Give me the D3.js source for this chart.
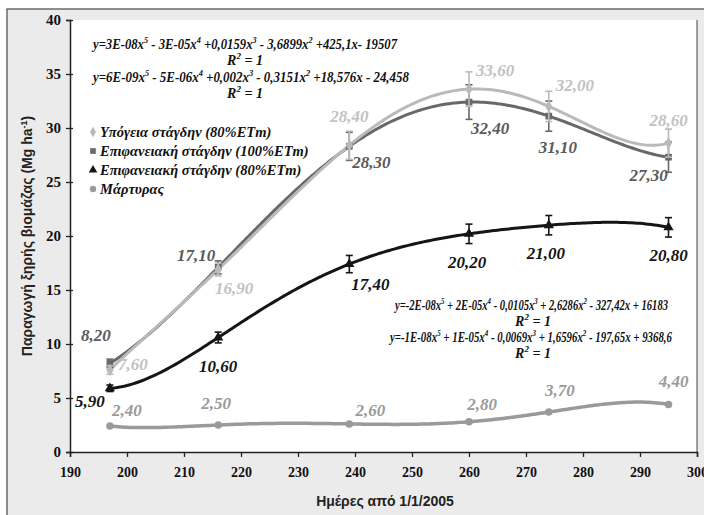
<!DOCTYPE html>
<html>
<head>
<meta charset="utf-8">
<script src="https://cdn.jsdelivr.net/npm/d3@7/dist/d3.min.js"></script>
<style>
  body { margin: 0; background: #fff; }
  .tick text { font-family: "Liberation Serif", "Times New Roman", "DejaVu Serif", serif; font-weight: bold; font-size: 15px; fill: #111; }
  .lbl { font-family: "Liberation Serif", "Times New Roman", "DejaVu Serif", serif; font-weight: bold; font-style: italic; font-size: 17px; }
  .eq { font-family: "Liberation Serif", "Times New Roman", "DejaVu Serif", serif; font-weight: bold; font-style: italic; font-size: 14px; fill: #111; }
  .leg { font-family: "Liberation Serif", "Times New Roman", "DejaVu Serif", serif; font-weight: bold; font-style: italic; font-size: 14.5px; fill: #111; }
  .title { font-family: "Liberation Sans", Arial, sans-serif; font-weight: bold; font-size: 14px; fill: #222; }
</style>
</head>
<body>
<svg width="704" height="515"></svg>
<script>
// days since 1/1/2005
var days = [197, 216, 239, 260, 274, 295];

var names = ["Υπόγεια στάγδην (80%ETm)", "Επιφανειακή στάγδην (100%ETm)",
             "Επιφανειακή στάγδην (80%ETm)", "Μάρτυρας"];

var subsurface80 = [7.60, 16.90, 28.40, 33.60, 32.00, 28.60];
var surface100   = [8.20, 17.10, 28.30, 32.40, 31.10, 27.30];
var surface80    = [5.90, 10.60, 17.40, 20.20, 21.00, 20.80];
var control      = [2.40, 2.50, 2.60, 2.80, 3.70, 4.40];

// error bar half-widths
var errSub80  = [0.4, 0.6, 1.3, 1.6, 1.4, 1.3];
var errSur100 = [0.4, 0.6, 1.3, 1.6, 1.4, 1.4];
var errSur80  = [0.3, 0.5, 0.8, 0.9, 0.9, 0.9];
var errCtrl   = [0, 0, 0, 0, 0, 0];

var xTicks = [190, 200, 210, 220, 230, 240, 250, 260, 270, 280, 290, 300];
var yTicks = [0, 5, 10, 15, 20, 25, 30, 35, 40];

var svg = d3.select("svg");

var x = d3.scaleLinear().domain([190, 300]).range([70, 697]),
    y = d3.scaleLinear().domain([0, 40]).range([452, 20]);

// background + frame
svg.append("rect").attr("x", 7).attr("y", 9).attr("width", 704).attr("height", 515)
  .attr("fill", "#ebebeb").attr("stroke", "#555").attr("stroke-width", 1.3);
svg.append("rect").attr("x", x(190)).attr("y", y(40))
  .attr("width", x(300) - x(190)).attr("height", y(0) - y(40)).attr("fill", "#fff");
svg.append("line").attr("x1", x(300)).attr("x2", x(300)).attr("y1", y(40)).attr("y2", y(0))
  .attr("stroke", "#444").attr("stroke-width", 1);

// axes
var gx = svg.append("g").attr("transform", "translate(0," + y(0) + ")")
  .call(d3.axisBottom(x).tickValues(xTicks).tickSize(5).tickPadding(9).tickFormat(d3.format("d")));
var gy = svg.append("g").attr("transform", "translate(" + x(190) + ",0)")
  .call(d3.axisLeft(y).tickValues(yTicks).tickSize(4).tickPadding(5).tickFormat(d3.format("d")));
gx.attr("font-family", null);
gy.attr("font-family", null);
gx.select(".domain").attr("stroke", "#222").attr("stroke-width", 1.5);
gy.select(".domain").attr("stroke", "#222").attr("stroke-width", 1.5);
gx.selectAll(".tick line").attr("stroke", "#222").attr("stroke-width", 1.3);
gy.selectAll(".tick line").attr("stroke", "#222").attr("stroke-width", 1.3).attr("x2", 3).attr("x1", -4);
gx.selectAll(".tick text").attr("textLength", 21).attr("lengthAdjust", "spacingAndGlyphs");

// titles
svg.append("text").attr("class", "title").attr("x", 385).attr("y", 506)
  .attr("text-anchor", "middle").text("Ημέρες από 1/1/2005");
var yt = svg.append("text").attr("class", "title").attr("text-anchor", "middle")
  .attr("transform", "translate(32,236) rotate(-90)");
yt.append("tspan").text("Παραγωγή ξηρής βιομάζας (Mg ha");
yt.append("tspan").attr("dy", -5).attr("font-size", 9).text("-1");
yt.append("tspan").attr("dy", 5).text(")");

// 5th order polynomial trendline through the 6 points (R² = 1)
function poly(xs, ys) {
  return function(t) {
    var s = 0;
    for (var i = 0; i < xs.length; i++) {
      var p = ys[i];
      for (var j = 0; j < xs.length; j++) if (j !== i) p *= (t - xs[j]) / (xs[i] - xs[j]);
      s += p;
    }
    return s;
  };
}

var series = [
  { vals: control, err: errCtrl, color: "#9a9a9a", sym: d3.symbolCircle, w: 3.5 },
  { vals: surface80, err: errSur80, color: "#151515", sym: d3.symbolTriangle, w: 3 },
  { vals: surface100, err: errSur100, color: "#686868", sym: d3.symbolSquare, w: 3 },
  { vals: subsurface80, err: errSub80, color: "#bababa", sym: d3.symbolDiamond, w: 3 }
];

var line = d3.line().x(function(d) { return x(d[0]); }).y(function(d) { return y(d[1]); });

series.forEach(function(s) {
  var f = poly(days, s.vals);
  var pts = d3.range(days[0], days[days.length - 1] + 0.5, 0.5).map(function(t) { return [t, f(t)]; });
  svg.append("path").attr("d", line(pts)).attr("fill", "none")
    .attr("stroke", s.color).attr("stroke-width", s.w);
});

series.forEach(function(s) {
  var g = svg.append("g");
  days.forEach(function(d, i) {
    if (s.err[i] > 0) {
      var x0 = x(d), y1 = y(s.vals[i] + s.err[i]), y2 = y(s.vals[i] - s.err[i]);
      g.append("line").attr("x1", x0).attr("x2", x0).attr("y1", y1).attr("y2", y2)
        .attr("stroke", s.color).attr("stroke-width", 1.6);
      [y1, y2].forEach(function(yy) {
        g.append("line").attr("x1", x0 - 3.5).attr("x2", x0 + 3.5).attr("y1", yy).attr("y2", yy)
          .attr("stroke", s.color).attr("stroke-width", 1.6);
      });
    }
    g.append("path").attr("d", d3.symbol().type(s.sym).size(45)())
      .attr("transform", "translate(" + x(d) + "," + y(s.vals[i]) + ")")
      .attr("fill", s.color);
  });
});

// data labels: offsets relative to each point
var offSub  = [[23, -6], [16, 19], [0, -29], [26, -19], [26, -21], [0, -23]];
var offSur  = [[-14, -28], [-22, -12], [22, 16], [21, 26], [9, 31], [-20, 18]];
var offSur8 = [[-20, 13], [0, 29], [21, 20], [-2, 28], [-3, 28], [0, 28]];
var offCtrl = [[17, -16], [-2, -22], [21, -14], [13, -18], [11, -22], [5, -23]];

function labels(vals, off, color) {
  svg.selectAll(null).data(vals).enter().append("text").attr("class", "lbl")
    .attr("x", function(d, i) { return x(days[i]) + off[i][0]; })
    .attr("y", function(d, i) { return y(d) + off[i][1]; })
    .attr("text-anchor", "middle").attr("dy", "0.35em").attr("fill", color)
    .text(function(d) { return d3.format(".2f")(d).replace(".", ","); });
}
labels(subsurface80, offSub, "#c2c2c2");
labels(surface100, offSur, "#5a5a5a");
labels(surface80, offSur8, "#151515");
labels(control, offCtrl, "#9a9a9a");

// legend
var legSym = [d3.symbolDiamond, d3.symbolSquare, d3.symbolTriangle, d3.symbolCircle];
var legCol = ["#bababa", "#686868", "#151515", "#9a9a9a"];
names.forEach(function(n, i) {
  var yy = 132 + i * 19;
  svg.append("path").attr("d", d3.symbol().type(legSym[i]).size(32)())
    .attr("transform", "translate(93," + yy + ")").attr("fill", legCol[i]);
  svg.append("text").attr("class", "leg").attr("x", 100).attr("y", yy + 5).text(n);
});

// trendline equations
var eqs = [
  { x: 93, y: 49, w: 304, parts: ["y=3E-08x", "5", " - 3E-05x", "4", " +0,0159x", "3", " - 3,6899x", "2", " +425,1x- 19507"] },
  { x: 93, y: 82, w: 316, parts: ["y=6E-09x", "5", " - 5E-06x", "4", " +0,002x", "3", " - 0,3151x", "2", " +18,576x - 24,458"] },
  { x: 395, y: 310, w: 273, parts: ["y=-2E-08x", "5", " + 2E-05x", "4", " - 0,0105x", "3", " + 2,6286x", "2", " - 327,42x + 16183"] },
  { x: 390, y: 342, w: 282, parts: ["y=-1E-08x", "5", " + 1E-05x", "4", " - 0,0069x", "3", " + 1,6596x", "2", " - 197,65x + 9368,6"] }
];
var r2x = [245, 245, 533, 533];
eqs.forEach(function(e, k) {
  var t = svg.append("text").attr("class", "eq").attr("x", e.x).attr("y", e.y)
    .attr("textLength", e.w).attr("lengthAdjust", "spacingAndGlyphs");
  e.parts.forEach(function(p, i) {
    if (i % 2 === 1) t.append("tspan").attr("dy", -6).attr("font-size", 9).text(p);
    else t.append("tspan").attr("dy", i === 0 ? 0 : 6).text(p);
  });
  var r = svg.append("text").attr("class", "eq").attr("x", r2x[k]).attr("y", e.y + 16)
    .attr("text-anchor", "middle");
  r.append("tspan").text("R");
  r.append("tspan").attr("dy", -6).attr("font-size", 9).text("2");
  r.append("tspan").attr("dy", 6).text(" = 1");
});
</script>
</body>
</html>
